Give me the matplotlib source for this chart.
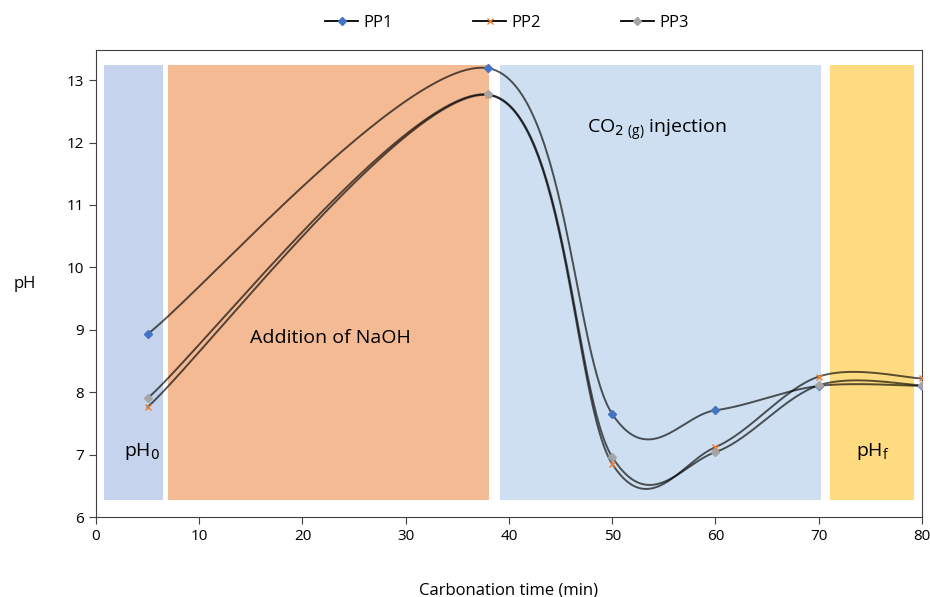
import numpy as np
import matplotlib.pyplot as plt

plt.rcParams['font.family'] = ['Open Sans', 'DejaVu Sans']

time = [5, 38, 50, 60, 70, 80]
pp1 = [8.93, 13.19, 7.65, 7.71, 8.10, 8.10]
pp2 = [7.76, 12.76, 6.85, 7.12, 8.25, 8.22]
pp3 = [7.90, 12.77, 6.96, 7.04, 8.11, 8.11]

# shaded stages: (x start, x end, colour)
stages = [(0.8, 6.5, '#c5d3ec'), (7.0, 38.1, '#f4ba94'),
          (39.1, 70.2, '#cddff0'), (71.1, 79.2, '#fedb80')]


def smooth(x, y, n=60):
    # excel-style smoothed line: bezier with catmull-rom control points
    p = np.column_stack([x, y]).astype(float)
    ext = np.vstack([p[0], p, p[-1]])
    out = []
    t = np.linspace(0, 1, n)[:, None]
    for i in range(len(p) - 1):
        p0, p3 = ext[i + 1], ext[i + 2]
        c1 = p0 + (ext[i + 2] - ext[i]) / 6
        c2 = p3 - (ext[i + 3] - ext[i + 1]) / 6
        seg = ((1 - t) ** 3 * p0 + 3 * (1 - t) ** 2 * t * c1
               + 3 * (1 - t) * t ** 2 * c2 + t ** 3 * p3)
        out.append(seg)
    out = np.vstack(out)
    return out[:, 0], out[:, 1]


fig = plt.figure(figsize=(9.3, 5.97), dpi=100)
ax = fig.add_axes([0.1032, 0.134, 0.8882, 0.782])

for x0, x1, c in stages:
    ax.fill_between([x0, x1], 6.27, 13.25, color=c, lw=0, zorder=0)

series = [(pp1, 'PP1', 'D', '#4472c4', 4),
          (pp2, 'PP2', 'x', '#ed7d31', 5),
          (pp3, 'PP3', 'D', '#a5a5a5', 4)]
for ys, name, mk, mc, ms in series:
    sx, sy = smooth(time, ys)
    ax.plot(sx, sy, color='black', lw=1.4, alpha=0.65, zorder=2)
    ax.plot(time, ys, ls='none', marker=mk, color=mc, ms=ms, mew=1, zorder=3)
    ax.plot([], [], color='black', lw=1.3, marker=mk, mfc=mc, mec=mc, ms=ms,
            label=name)

ax.text(22.7, 8.87, 'Addition of NaOH', fontsize=14, ha='center', va='center')
ax.text(54.3, 12.2, r'CO$_{2\ \mathregular{(g)}}$ injection', fontsize=14,
        ha='center', va='center')
ax.text(4.5, 7.05, r'pH$_0$', fontsize=14, ha='center', va='center')
ax.text(75.2, 7.05, r'pH$_\mathregular{f}$', fontsize=14, ha='center', va='center')

ax.set_xlim(0, 80)
ax.set_ylim(6, 13.48)
ax.set_xticks(range(0, 81, 10))
ax.set_yticks(range(6, 14))
ax.tick_params(labelsize=11, length=5, color='#404040')
for s in ax.spines.values():
    s.set_color('#404040')
ax.set_xlabel('Carbonation time (min)', fontsize=12, labelpad=28)
ax.set_ylabel('pH', fontsize=12, rotation=0, labelpad=30, va='center')

fig.legend(loc='upper center', bbox_to_anchor=(0.545, 1.0), ncol=3, frameon=False,
           fontsize=12, handlelength=2, columnspacing=4.8, handletextpad=0.3)

fig.savefig('out.png', dpi=100)
